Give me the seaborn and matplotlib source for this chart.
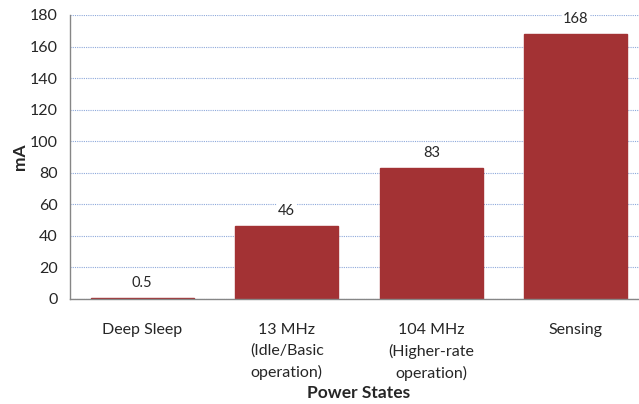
import pandas as pd
import seaborn as sns
import matplotlib.pyplot as plt
from matplotlib.ticker import FixedLocator

states = ['Deep Sleep', '13 MHz\n(Idle/Basic\noperation)',
          '104 MHz\n(Higher-rate\noperation)', 'Sensing']
current_ma = [0.5, 46, 83, 168]
bar_labels = ['0.5', '46', '83', '168']

df = pd.DataFrame({'state': states, 'mA': current_ma})

sns.set_style('white')
plt.rcParams['font.family'] = ['Lato', 'DejaVu Sans']

fig = plt.figure(figsize=(6.39, 4.04), dpi=100)
ax = fig.add_axes([70 / 639, 105 / 404, 578 / 639, 284 / 404])

sns.barplot(data=df, x='state', y='mA', color='#A33234', saturation=1,
            width=0.713, ax=ax, zorder=2, edgecolor='#A33234', linewidth=1)

ax.set_ylim(0, 180)
ax.set_xlim(-0.5, 3.5)
ax.set_yticks(range(0, 181, 20))
ax.yaxis.grid(True, linestyle=(0, (1, 1)), color='#8EA9DB', linewidth=0.8, zorder=0)
ax.set_axisbelow(True)

for c in ax.containers:
    ax.bar_label(c, labels=bar_labels, padding=6, fontsize=10.5,
                 bbox=dict(facecolor='white', edgecolor='none', pad=1))

for s in ['top', 'right']:
    ax.spines[s].set_visible(False)
for s in ['left', 'bottom']:
    ax.spines[s].set_color('#868686')
    ax.spines[s].set_linewidth(1)

ax.tick_params(axis='y', length=6, color='#868686', labelsize=11.5, pad=3)
ax.tick_params(axis='x', which='major', length=0, labelsize=11.5, pad=17)
ax.xaxis.set_minor_locator(FixedLocator([-0.5, 0.5, 1.5, 2.5, 3.5]))
ax.tick_params(axis='x', which='minor', length=6, color='#868686')
for lbl in ax.get_xticklabels():
    lbl.set_linespacing(1.6)
    lbl.set_verticalalignment('top')

ax.set_xlabel('Power States', fontsize=12.5, fontweight='bold', labelpad=3)
ax.set_ylabel('mA', fontsize=12.5, fontweight='bold', labelpad=1)

fig.savefig('out.png', dpi=100)
